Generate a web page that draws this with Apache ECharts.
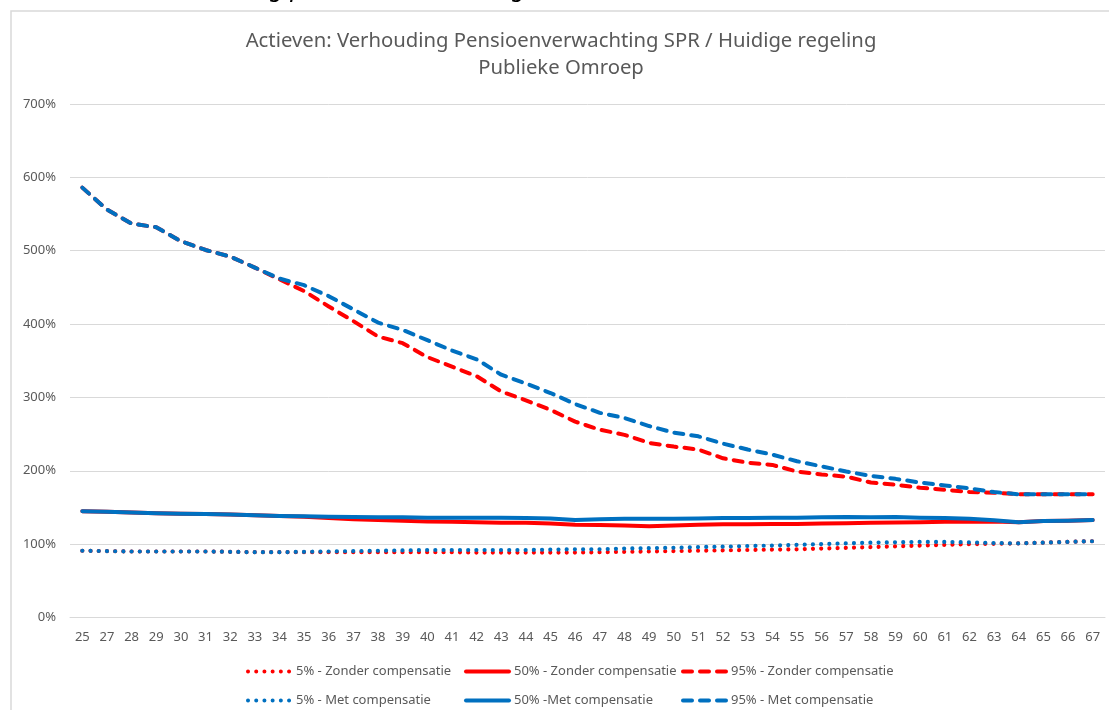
<!DOCTYPE html>
<html>
<head>
<meta charset="utf-8">
<script src="https://cdn.jsdelivr.net/npm/echarts@6/dist/echarts.min.js"></script>
<style>html,body{margin:0;padding:0;background:#fff;}#c{width:1109px;height:710px;}</style>
</head>
<body>
<div id="c"></div>
<script>
const ages = ['25','27','28','29','30','31','32','33','34','35','36','37','38','39','40','41','42','43','44','45','46','47','48','49','50','51','52','53','54','55','56','57','58','59','60','61','62','63','64','65','66','67'];
const yTicks = [0, 100, 200, 300, 400, 500, 600, 700];
const names = ['5% - Zonder compensatie','50% - Zonder compensatie','95% - Zonder compensatie','5% - Met compensatie','50% -Met compensatie','95% - Met compensatie'];

const p5Zonder = [91,90.5,90,90,90,90,89.5,89,89,89,89,89,89,89,89,89,88.5,88.5,88.5,88.5,88.5,89,89.5,90,90.5,91,91.5,92,92.5,93,94,95,96,97,98,99,100,100.5,101,102,103,104];
const p50Zonder = [145,144,143,142,141.5,141,140.5,139.5,138.5,137.5,135.5,134,133,132,131,130.5,130,129,129,128,126.5,126,125.5,124.5,125.5,126.5,127,127,127.5,127.5,128,128.5,129,129.5,130,130.5,130.5,131,130,131.5,132,133];
const p95Zonder = [586,556,537,532,513,501,492,477,461,445,424,404,383,374,355,342,329,308,296,283,267,256,249,238,233,229,217,211,208,199,195,192,184,181,177,174,171,170,168,168,168,168];
const p5Met = [91,90.5,90,90,90,90,89.5,89,89,89.5,90,90.5,91,91.5,92,92,92,92,92,92.5,93,93,94,94.5,95,96,96.5,97.5,98,99,100,101,102,102.5,103,103,102.5,101.5,101,102,103,104];
const p50Met = [145,144,143,142,141.5,141,140.5,139.5,138.5,138,137.5,137,136.5,136.5,136,136,136,136,135.5,135,133,134,134.5,134.5,134.5,135,135.5,135.5,136,136,136.5,137,136.5,137,136,135.5,134.5,132.5,130,131.5,132,133];
const p95Met = [586,556,537,532,513,501,492,477,462,453,438,420,402,392,378,364,352,331,319,306,291,279,272,261,252,247,237,229,222,213,206,199,193,189,184,180,176,171,168,168,168,168];

const RED = '#FF0000', BLUE = '#0070C0';
const dotted = [0.01, 8.2];
const dashed = [9, 8];
const FONT = 'Noto Sans';

function mk(name, data, color, type, width) {
  return {
    name: name, type: 'line', data: data, symbol: 'none', smooth: false,
    lineStyle: { color: color, width: width, type: type, cap: 'round', join: 'round' },
    itemStyle: { color: color },
    emphasis: { disabled: true }, animation: false
  };
}

function lg(name, left, top) {
  return {
    orient: 'horizontal', left: left, top: top, itemGap: 10, itemWidth: 43, itemHeight: 14,
    textStyle: { color: '#595959', fontSize: 13, fontFamily: FONT },
    lineStyle: { width: 4, cap: 'round' },
    itemStyle: { opacity: 0 },
    selectedMode: false,
    data: [name]
  };
}

const colLeft = [241, 459, 676];
const rowTop = [660, 689];

const chart = echarts.init(document.getElementById('c'));
chart.setOption({
  backgroundColor: '#fff',
  animation: false,
  textStyle: { fontFamily: FONT },
  graphic: [
    { type: 'rect', shape: { x: 11, y: 11, width: 1200, height: 800 }, style: { fill: 'none', stroke: '#d9d9d9', lineWidth: 1.5 }, silent: true },
    { type: 'text', x: 526, y: 1, style: { text: 'Tabel 1: Verhouding pensioenverwachting', font: 'italic 25px "Noto Sans"', fill: '#000', textAlign: 'right', textVerticalAlign: 'bottom' }, silent: true },
    { type: 'text', x: 561, y: 41, style: { text: 'Actieven: Verhouding Pensioenverwachting SPR / Huidige regeling', font: '20.3px "Noto Sans"', fill: '#595959', textAlign: 'center', textVerticalAlign: 'middle' }, silent: true },
    { type: 'text', x: 561, y: 68, style: { text: 'Publieke Omroep', font: '20.3px "Noto Sans"', fill: '#595959', textAlign: 'center', textVerticalAlign: 'middle' }, silent: true }
  ],
  grid: { left: 70, right: 4, top: 104, bottom: 92.5, containLabel: false },
  legend: [
    lg(names[0], colLeft[0], rowTop[0]),
    lg(names[1], colLeft[1], rowTop[0]),
    lg(names[2], colLeft[2], rowTop[0]),
    lg(names[3], colLeft[0], rowTop[1]),
    lg(names[4], colLeft[1], rowTop[1]),
    lg(names[5], colLeft[2], rowTop[1])
  ],
  xAxis: {
    type: 'category', data: ages, boundaryGap: true,
    axisLine: { lineStyle: { color: '#d9d9d9', width: 1 } },
    axisTick: { show: false },
    axisLabel: { color: '#595959', fontSize: 13, interval: 0, margin: 13, fontFamily: FONT }
  },
  yAxis: {
    type: 'value', min: yTicks[0], max: yTicks[yTicks.length - 1], interval: 100,
    axisLine: { show: false }, axisTick: { show: false },
    axisLabel: { color: '#595959', fontSize: 13, margin: 14, formatter: '{value}%', fontFamily: FONT },
    splitLine: { lineStyle: { color: '#d9d9d9', width: 1 } }
  },
  series: [
    mk(names[0], p5Zonder, RED, dotted, 4.2),
    mk(names[1], p50Zonder, RED, 'solid', 4),
    mk(names[2], p95Zonder, RED, dashed, 4),
    mk(names[3], p5Met, BLUE, dotted, 4.2),
    mk(names[4], p50Met, BLUE, 'solid', 4),
    mk(names[5], p95Met, BLUE, dashed, 4)
  ]
});
</script>
</body>
</html>
